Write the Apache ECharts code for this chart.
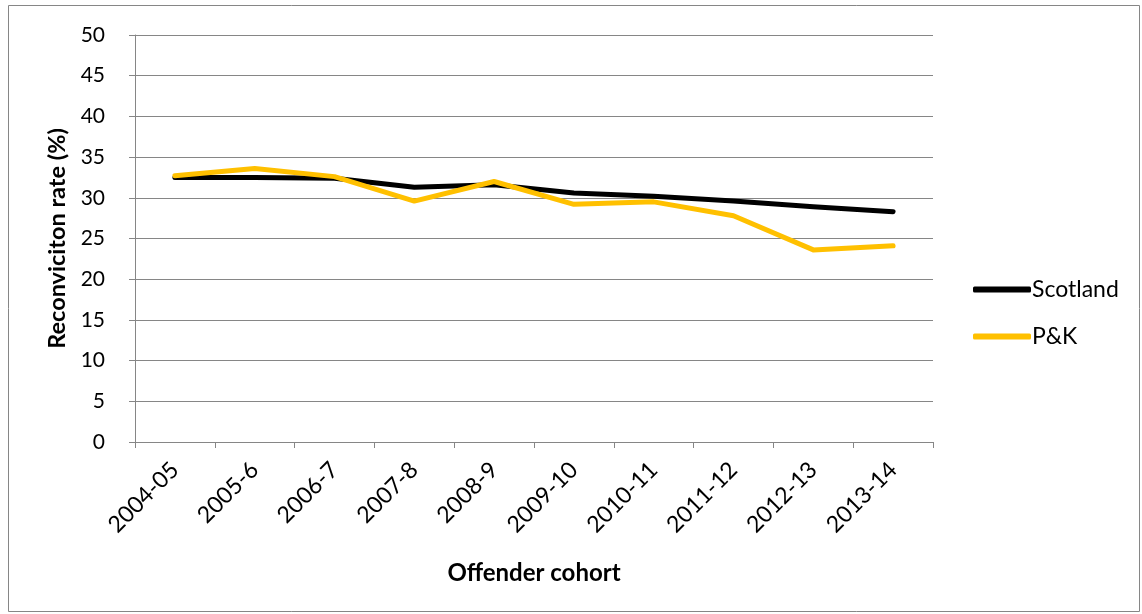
<!DOCTYPE html>
<html><head><meta charset="utf-8">
<script src="https://cdn.jsdelivr.net/npm/echarts@6/dist/echarts.min.js"></script>
<style>html,body{margin:0;padding:0;background:#fff}#c{width:1142px;height:614px}</style>
</head><body><div id="c"></div>
<script>
const categories = ['2004-05','2005-6','2006-7','2007-8','2008-9','2009-10','2010-11','2011-12','2012-13','2013-14'];
const scotland = [32.5, 32.5, 32.4, 31.3, 31.6, 30.6, 30.2, 29.6, 28.9, 28.3];
const pk = [32.7, 33.6, 32.6, 29.6, 32.0, 29.2, 29.5, 27.8, 23.6, 24.1];
const seriesNames = ['Scotland', 'P&K'];
const font = 'Lato, "Open Sans", sans-serif';
const chart = echarts.init(document.getElementById('c'));
chart.setOption({
  animation: false,
  backgroundColor: '#fff',
  graphic: [{type:'rect', shape:{x:8.5,y:5.5,width:1131,height:606}, style:{fill:'none', stroke:'#868686', lineWidth:1}}],
  grid: {left:135, right:209, top:35, bottom:172, containLabel:false},
  legend: {
    orient:'vertical', left:968, top:273, itemGap:24, itemWidth:58, itemHeight:6,
    icon:'roundRect',
    textStyle:{fontFamily:font, fontSize:23, color:'#000', padding:[0,0,0,-4]},
    data: seriesNames
  },
  xAxis: {
    type:'category', data:categories, boundaryGap:true,
    name:'Offender cohort', nameLocation:'middle', nameGap:119,
    nameTextStyle:{fontFamily:font, fontSize:24, fontWeight:'bold', color:'#000'},
    axisLine:{lineStyle:{color:'#868686', width:1}},
    axisTick:{show:true, alignWithLabel:false, length:6, lineStyle:{color:'#868686'}},
    axisLabel:{rotate:45, fontFamily:font, fontSize:23, color:'#000', margin:24, interval:0}
  },
  yAxis: {
    type:'value', min:0, max:50, interval:5,
    name:'Reconviciton rate (%)', nameLocation:'middle', nameGap:66,
    nameTextStyle:{fontFamily:font, fontSize:23.5, fontWeight:'bold', color:'#000'},
    axisLine:{show:true, lineStyle:{color:'#868686', width:1}},
    axisTick:{show:true, length:6, lineStyle:{color:'#868686'}},
    axisLabel:{fontFamily:font, fontSize:21, color:'#000', margin:30},
    splitLine:{lineStyle:{color:'#868686', width:1}}
  },
  series: [
    {name:seriesNames[0], type:'line', data:scotland, showSymbol:false, symbol:'none', lineStyle:{color:'#000', width:5, cap:'round', join:'round'}, itemStyle:{color:'#000'}},
    {name:seriesNames[1], type:'line', data:pk, showSymbol:false, symbol:'none', lineStyle:{color:'#FFC000', width:5, cap:'round', join:'round'}, itemStyle:{color:'#FFC000'}}
  ]
});
</script></body></html>
